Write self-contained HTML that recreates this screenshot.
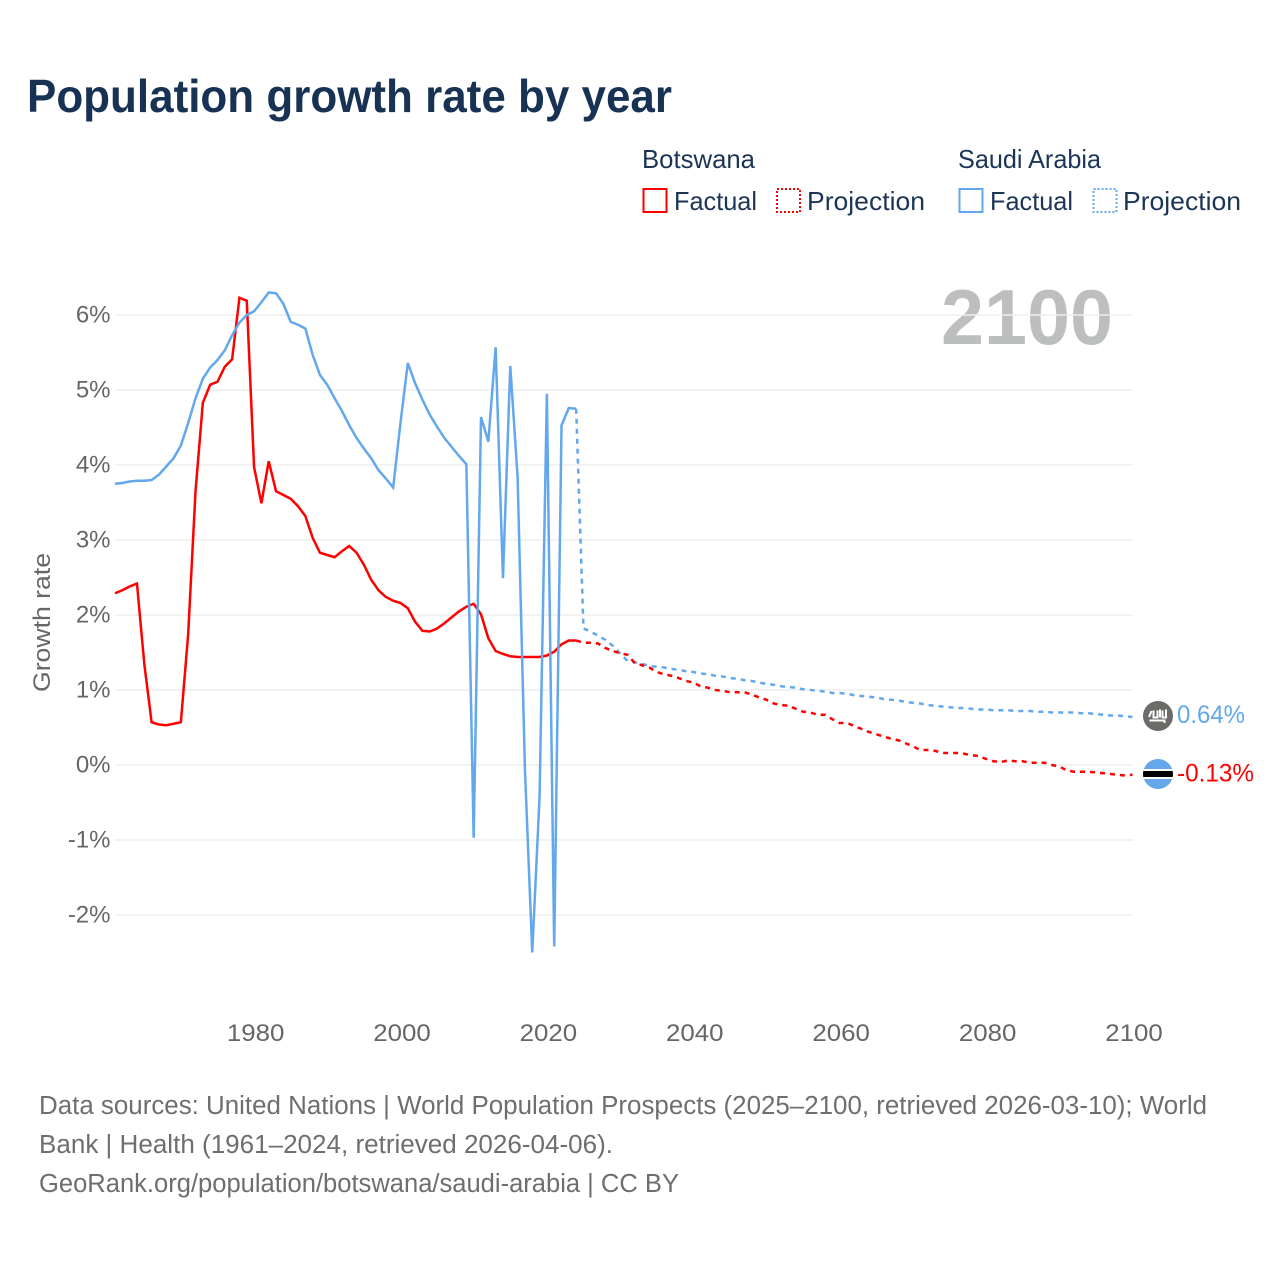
<!DOCTYPE html>
<html lang="en">
<head>
<meta charset="utf-8">
<title>Population growth rate by year</title>
<style>
html,body{margin:0;padding:0;background:#fff;width:1280px;height:1280px;overflow:hidden}
svg{display:block;font-family:"Liberation Sans",Arial,sans-serif}
</style>
</head>
<body>
<svg id="chart" xmlns="http://www.w3.org/2000/svg" width="1280" height="1280" viewBox="0 0 1280 1280">
  <rect x="0" y="0" width="1280" height="1280" fill="#ffffff"/>
  <text x="27" y="112" font-size="46" font-weight="700" fill="#173253" textLength="645" lengthAdjust="spacingAndGlyphs">Population growth rate by year</text>

  <g font-size="26" fill="#1c3557">
    <text x="642" y="168" textLength="113" lengthAdjust="spacingAndGlyphs">Botswana</text>
    <rect x="643.5" y="189" width="23" height="23" fill="none" stroke="#ff0000" stroke-width="2"/>
    <text x="674" y="210" textLength="83" lengthAdjust="spacingAndGlyphs">Factual</text>
    <rect x="777" y="189" width="23" height="23" fill="none" stroke="#ff0000" stroke-width="2" stroke-dasharray="2 2"/>
    <text x="807" y="210" textLength="118" lengthAdjust="spacingAndGlyphs">Projection</text>
    <text x="958" y="168" textLength="143" lengthAdjust="spacingAndGlyphs">Saudi Arabia</text>
    <rect x="959.5" y="189" width="23" height="23" fill="none" stroke="#63a7ec" stroke-width="2"/>
    <text x="990" y="210" textLength="83" lengthAdjust="spacingAndGlyphs">Factual</text>
    <rect x="1093.5" y="189" width="23" height="23" fill="none" stroke="#63a7ec" stroke-width="2" stroke-dasharray="2 2"/>
    <text x="1123" y="210" textLength="118" lengthAdjust="spacingAndGlyphs">Projection</text>
  </g>

  <text x="941" y="344" font-size="78" font-weight="700" fill="#bdbfbf" textLength="172" lengthAdjust="spacingAndGlyphs">2100</text>
  <g id="grid"></g>
  <g id="y-ticks" font-size="24" fill="#666666" text-anchor="end"></g>
  <g id="x-ticks" font-size="24" fill="#666666" text-anchor="middle"></g>
  <text transform="translate(50,622.5) rotate(-90)" font-size="24" fill="#666666" text-anchor="middle" textLength="139" lengthAdjust="spacingAndGlyphs">Growth rate</text>
  <g id="series"></g>

  <g id="flag-saudi">
    <circle cx="0" cy="0" r="15" fill="#6b6c67"/>
    <path d="M-9 1 L-6.5 -5 M-4.5 -5.5 L-4.5 1.5 L-0.5 1.5 L-0.5 -5.5 M2 -6.5 L2 1.5 M4.5 -5.5 L4.5 1.5 L8 1.5 L8 -6.5 M-8.5 4.5 L6.5 4.5 L6.5 7" fill="none" stroke="#ffffff" stroke-width="2"/>
  </g>
  <g id="flag-botswana">
    <clipPath id="bw-clip"><circle cx="0" cy="0" r="15"/></clipPath>
    <g clip-path="url(#bw-clip)">
      <rect x="-15" y="-15" width="30" height="30" fill="#65a7ea"/>
      <rect x="-15" y="-5" width="30" height="10" fill="#ffffff"/>
      <rect x="-15" y="-3" width="30" height="6" fill="#000000"/>
    </g>
  </g>
  <text id="end-saudi" x="1177" font-size="25" fill="#63a7ec" textLength="68" lengthAdjust="spacingAndGlyphs"></text>
  <text id="end-botswana" x="1177" font-size="25" fill="#ff0000" textLength="77" lengthAdjust="spacingAndGlyphs"></text>

  <g font-size="25.5" fill="#6e6e6e">
    <text x="39" y="1114" textLength="1168" lengthAdjust="spacingAndGlyphs">Data sources: United Nations | World Population Prospects (2025–2100, retrieved 2026-03-10); World</text>
    <text x="39" y="1153" textLength="574" lengthAdjust="spacingAndGlyphs">Bank | Health (1961–2024, retrieved 2026-04-06).</text>
    <text x="39" y="1192" textLength="640" lengthAdjust="spacingAndGlyphs">GeoRank.org/population/botswana/saudi-arabia | CC BY</text>
  </g>
</svg>
<script>
const factualStartYear = 1961;
const projectionStartYear = 2025;
const yTickValues = [6, 5, 4, 3, 2, 1, 0, -1, -2];
const xTickYears = [1980, 2000, 2020, 2040, 2060, 2080, 2100];

const botswanaFactual = [
  2.29,2.33,2.38,2.42,1.35,0.57,0.54,0.53,0.55,0.57,
  1.75,3.65,4.83,5.07,5.11,5.31,5.41,6.23,6.19,3.97,
  3.49,4.05,3.65,3.60,3.55,3.45,3.32,3.03,2.83,2.80,
  2.77,2.85,2.92,2.83,2.67,2.47,2.33,2.24,2.19,2.16,
  2.09,1.91,1.79,1.78,1.82,1.89,1.97,2.05,2.11,2.15,
  2.01,1.69,1.52,1.48,1.45,1.44,1.44,1.44,1.44,1.46,
  1.51,1.61,1.66,1.66
];
const saudiFactual = [
  3.75,3.76,3.78,3.79,3.79,3.80,3.87,3.98,4.09,4.26,
  4.56,4.89,5.15,5.30,5.40,5.53,5.73,5.90,6.00,6.05,
  6.17,6.30,6.29,6.15,5.91,5.87,5.82,5.47,5.20,5.07,
  4.89,4.72,4.53,4.36,4.22,4.09,3.93,3.82,3.70,4.56,
  5.36,5.09,4.87,4.67,4.51,4.36,4.24,4.12,4.01,-0.97,
  4.64,4.31,5.57,2.49,5.32,3.84,-0.05,-2.50,-0.43,4.95,
  -2.42,4.53,4.76,4.75
];
const botswanaProjection = [
  1.63,1.63,1.62,1.56,1.52,1.49,1.47,1.36,1.33,1.30,1.24,1.21,1.19,1.16,1.12,1.10,
  1.05,1.03,1.00,0.99,0.97,0.97,0.97,0.94,0.90,0.87,0.82,0.80,0.79,0.75,0.71,0.70,
  0.67,0.67,0.61,0.56,0.56,0.52,0.48,0.44,0.41,0.38,0.35,0.33,0.29,0.25,0.20,0.20,
  0.19,0.16,0.16,0.16,0.15,0.13,0.12,0.08,0.05,0.04,0.06,0.05,0.05,0.03,0.03,0.03,
  0.00,-0.02,-0.07,-0.09,-0.09,-0.09,-0.10,-0.11,-0.12,-0.13,-0.14,-0.13
];
const saudiProjection = [
  1.82,1.78,1.72,1.67,1.59,1.49,1.39,1.37,1.35,1.32,1.31,1.30,1.28,1.27,1.25,1.24,
  1.22,1.21,1.19,1.18,1.16,1.15,1.13,1.12,1.10,1.08,1.07,1.05,1.04,1.03,1.01,1.00,
  0.99,0.98,0.96,0.96,0.95,0.93,0.92,0.91,0.90,0.88,0.87,0.86,0.84,0.83,0.82,0.80,
  0.79,0.78,0.77,0.76,0.76,0.75,0.74,0.74,0.73,0.73,0.73,0.72,0.72,0.72,0.71,0.71,
  0.70,0.70,0.70,0.70,0.69,0.69,0.68,0.67,0.66,0.66,0.65,0.64
];

const SVG_NS = 'http://www.w3.org/2000/svg';
const xScale = function (year) { return 115 + (year - 1961) * 7.32; };
const xTickScale = function (year) { return xScale(year) + 1.5; };
const yScale = function (value) { return 765 - value * 75; };

function pointsFrom(startYear, values) {
  return values.map(function (v, i) {
    return xScale(startYear + i).toFixed(2) + ',' + yScale(v).toFixed(2);
  });
}

function addLine(points, color, dashed) {
  const line = document.createElementNS(SVG_NS, 'polyline');
  line.setAttribute('points', points.join(' '));
  line.setAttribute('fill', 'none');
  line.setAttribute('stroke', color);
  line.setAttribute('stroke-width', '2.5');
  line.setAttribute('stroke-linejoin', 'miter');
  line.setAttribute('stroke-miterlimit', '4');
  if (dashed) line.setAttribute('stroke-dasharray', '5 5');
  document.getElementById('series').appendChild(line);
  return line;
}

yTickValues.forEach(function (v) {
  const grid = document.createElementNS(SVG_NS, 'line');
  
  
  grid.setAttribute('x1', xScale(1961));
  grid.setAttribute('x2', xScale(2100) + 0.5);
  grid.setAttribute('y1', yScale(v));
  grid.setAttribute('y2', yScale(v));
  grid.setAttribute('stroke', '#eeeeee');
  grid.setAttribute('stroke-width', '1.6');
  document.getElementById('grid').appendChild(grid);

  const label = document.createElementNS(SVG_NS, 'text');
  
  
  label.setAttribute('x', 110.5);
  label.setAttribute('y', yScale(v) + 7.5);
  label.textContent = v + '%';
  document.getElementById('y-ticks').appendChild(label);
});

xTickYears.forEach(function (year) {
  const label = document.createElementNS(SVG_NS, 'text');
  
  
  label.setAttribute('x', xTickScale(year));
  label.setAttribute('y', 1041);
  label.setAttribute('textLength', '57.5');
  label.setAttribute('lengthAdjust', 'spacingAndGlyphs');
  label.textContent = year;
  document.getElementById('x-ticks').appendChild(label);
});

const saudiFactualPoints = pointsFrom(factualStartYear, saudiFactual);
const botswanaFactualPoints = pointsFrom(factualStartYear, botswanaFactual);
const saudiProjectionPoints = [saudiFactualPoints[saudiFactualPoints.length - 1]].concat(pointsFrom(projectionStartYear, saudiProjection));
const botswanaProjectionPoints = [botswanaFactualPoints[botswanaFactualPoints.length - 1]].concat(pointsFrom(projectionStartYear, botswanaProjection));

const botswanaFactualLine = addLine(botswanaFactualPoints, '#ff0000', false);


const saudiFactualLine = addLine(saudiFactualPoints, '#63a7ec', false);


const saudiProjectionLine = addLine(saudiProjectionPoints, '#63a7ec', true);


const botswanaProjectionLine = addLine(botswanaProjectionPoints, '#ff0000', true);



const saudiEnd = saudiProjection[saudiProjection.length - 1];
const botswanaEnd = botswanaProjection[botswanaProjection.length - 1];
document.getElementById('flag-saudi').setAttribute('transform', 'translate(1158,' + (yScale(saudiEnd) - 1) + ')');
document.getElementById('flag-botswana').setAttribute('transform', 'translate(1158,' + (yScale(botswanaEnd) - 0.75) + ')');
const endSaudi = document.getElementById('end-saudi');
endSaudi.setAttribute('y', yScale(saudiEnd) + 6);
endSaudi.textContent = saudiEnd.toFixed(2) + '%';
const endBotswana = document.getElementById('end-botswana');
endBotswana.setAttribute('y', yScale(botswanaEnd) + 6.5);
endBotswana.textContent = botswanaEnd.toFixed(2) + '%';
</script>
</body>
</html>
